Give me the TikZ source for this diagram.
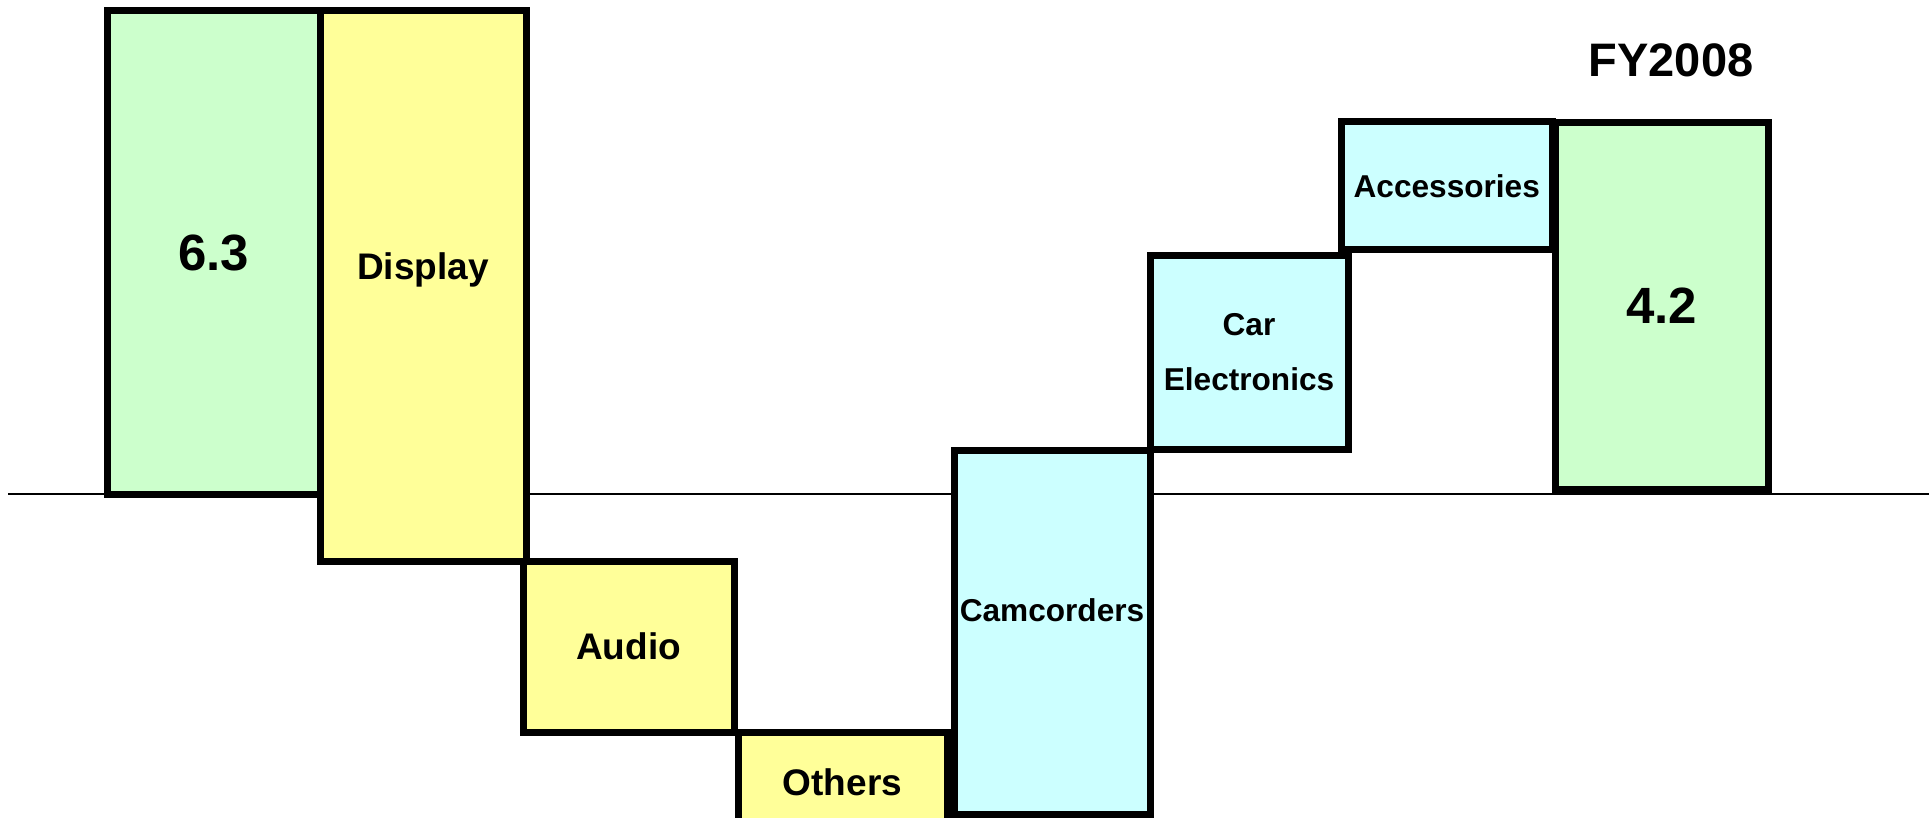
\documentclass[tikz,border=0pt]{standalone}
\usepackage{fontspec}
\setmainfont{Liberation Sans}
\usetikzlibrary{positioning}
\definecolor{totalgreen}{HTML}{CCFFCC}
\definecolor{lossyellow}{HTML}{FFFF99}
\definecolor{gaincyan}{HTML}{CCFFFF}

\begin{document}
\begin{tikzpicture}[x=0.5pt,y=-0.5pt,
  bar/.style={draw,line width=3.5pt,inner sep=0pt,outer sep=0pt},
  box size/.style 2 args={minimum width=#1*0.5pt,minimum height=#2*0.5pt},
  bigfont/.style={font=\bfseries\fontsize{25.5}{30}\selectfont},
  midfont/.style={font=\bfseries\fontsize{18.5}{22}\selectfont},
  smallfont/.style={font=\bfseries\fontsize{15.8}{27.5}\selectfont,align=center},
  total/.style={bar,fill=totalgreen,bigfont},
  loss/.style={bar,fill=lossyellow,midfont},
  gain/.style={bar,fill=gaincyan,smallfont}]
\useasboundingbox (0,0) rectangle (1932,818);
% zero line
\coordinate (axisL) at (8,494);
\coordinate (axisR) at (1929,494);
\draw[line width=1.3pt] (axisL) -- (axisR);
% start and end totals
\node[total,box size={213}{483}] (fy07) at (213.5,252.5) {6.3};
\node[total,box size={213}{367}] (fy08) at (1661.5,306) {4.2};
\node[bigfont,font=\bfseries\fontsize{23.5}{28}\selectfont] (fy08title) at (1671,60) {FY2008};
% decreases
\node[loss,box size={206}{550}] (display) at (423,286) {};
\node[midfont] (displaytext) at ([yshift=8.2pt]display.center) {Display};
\node[loss,box size={211}{171}] (audio) at (628.5,646.5) {Audio};
\node[loss,box size={209}{100}] (others) at (842.5,782) {Others};
% increases
\node[gain,box size={196}{364}] (camcorders) at (1052,632) {};
\node[smallfont] (camtext) at ([yshift=11pt]camcorders.center) {Camcorders};
\node[gain,box size={198}{193}] (car) at (1249,352.5) {Car\\Electronics};
\node[gain,box size={210.5}{128.5}] (accessories) at (1446.75,185.75) {Accessories};
\end{tikzpicture}
\end{document}
